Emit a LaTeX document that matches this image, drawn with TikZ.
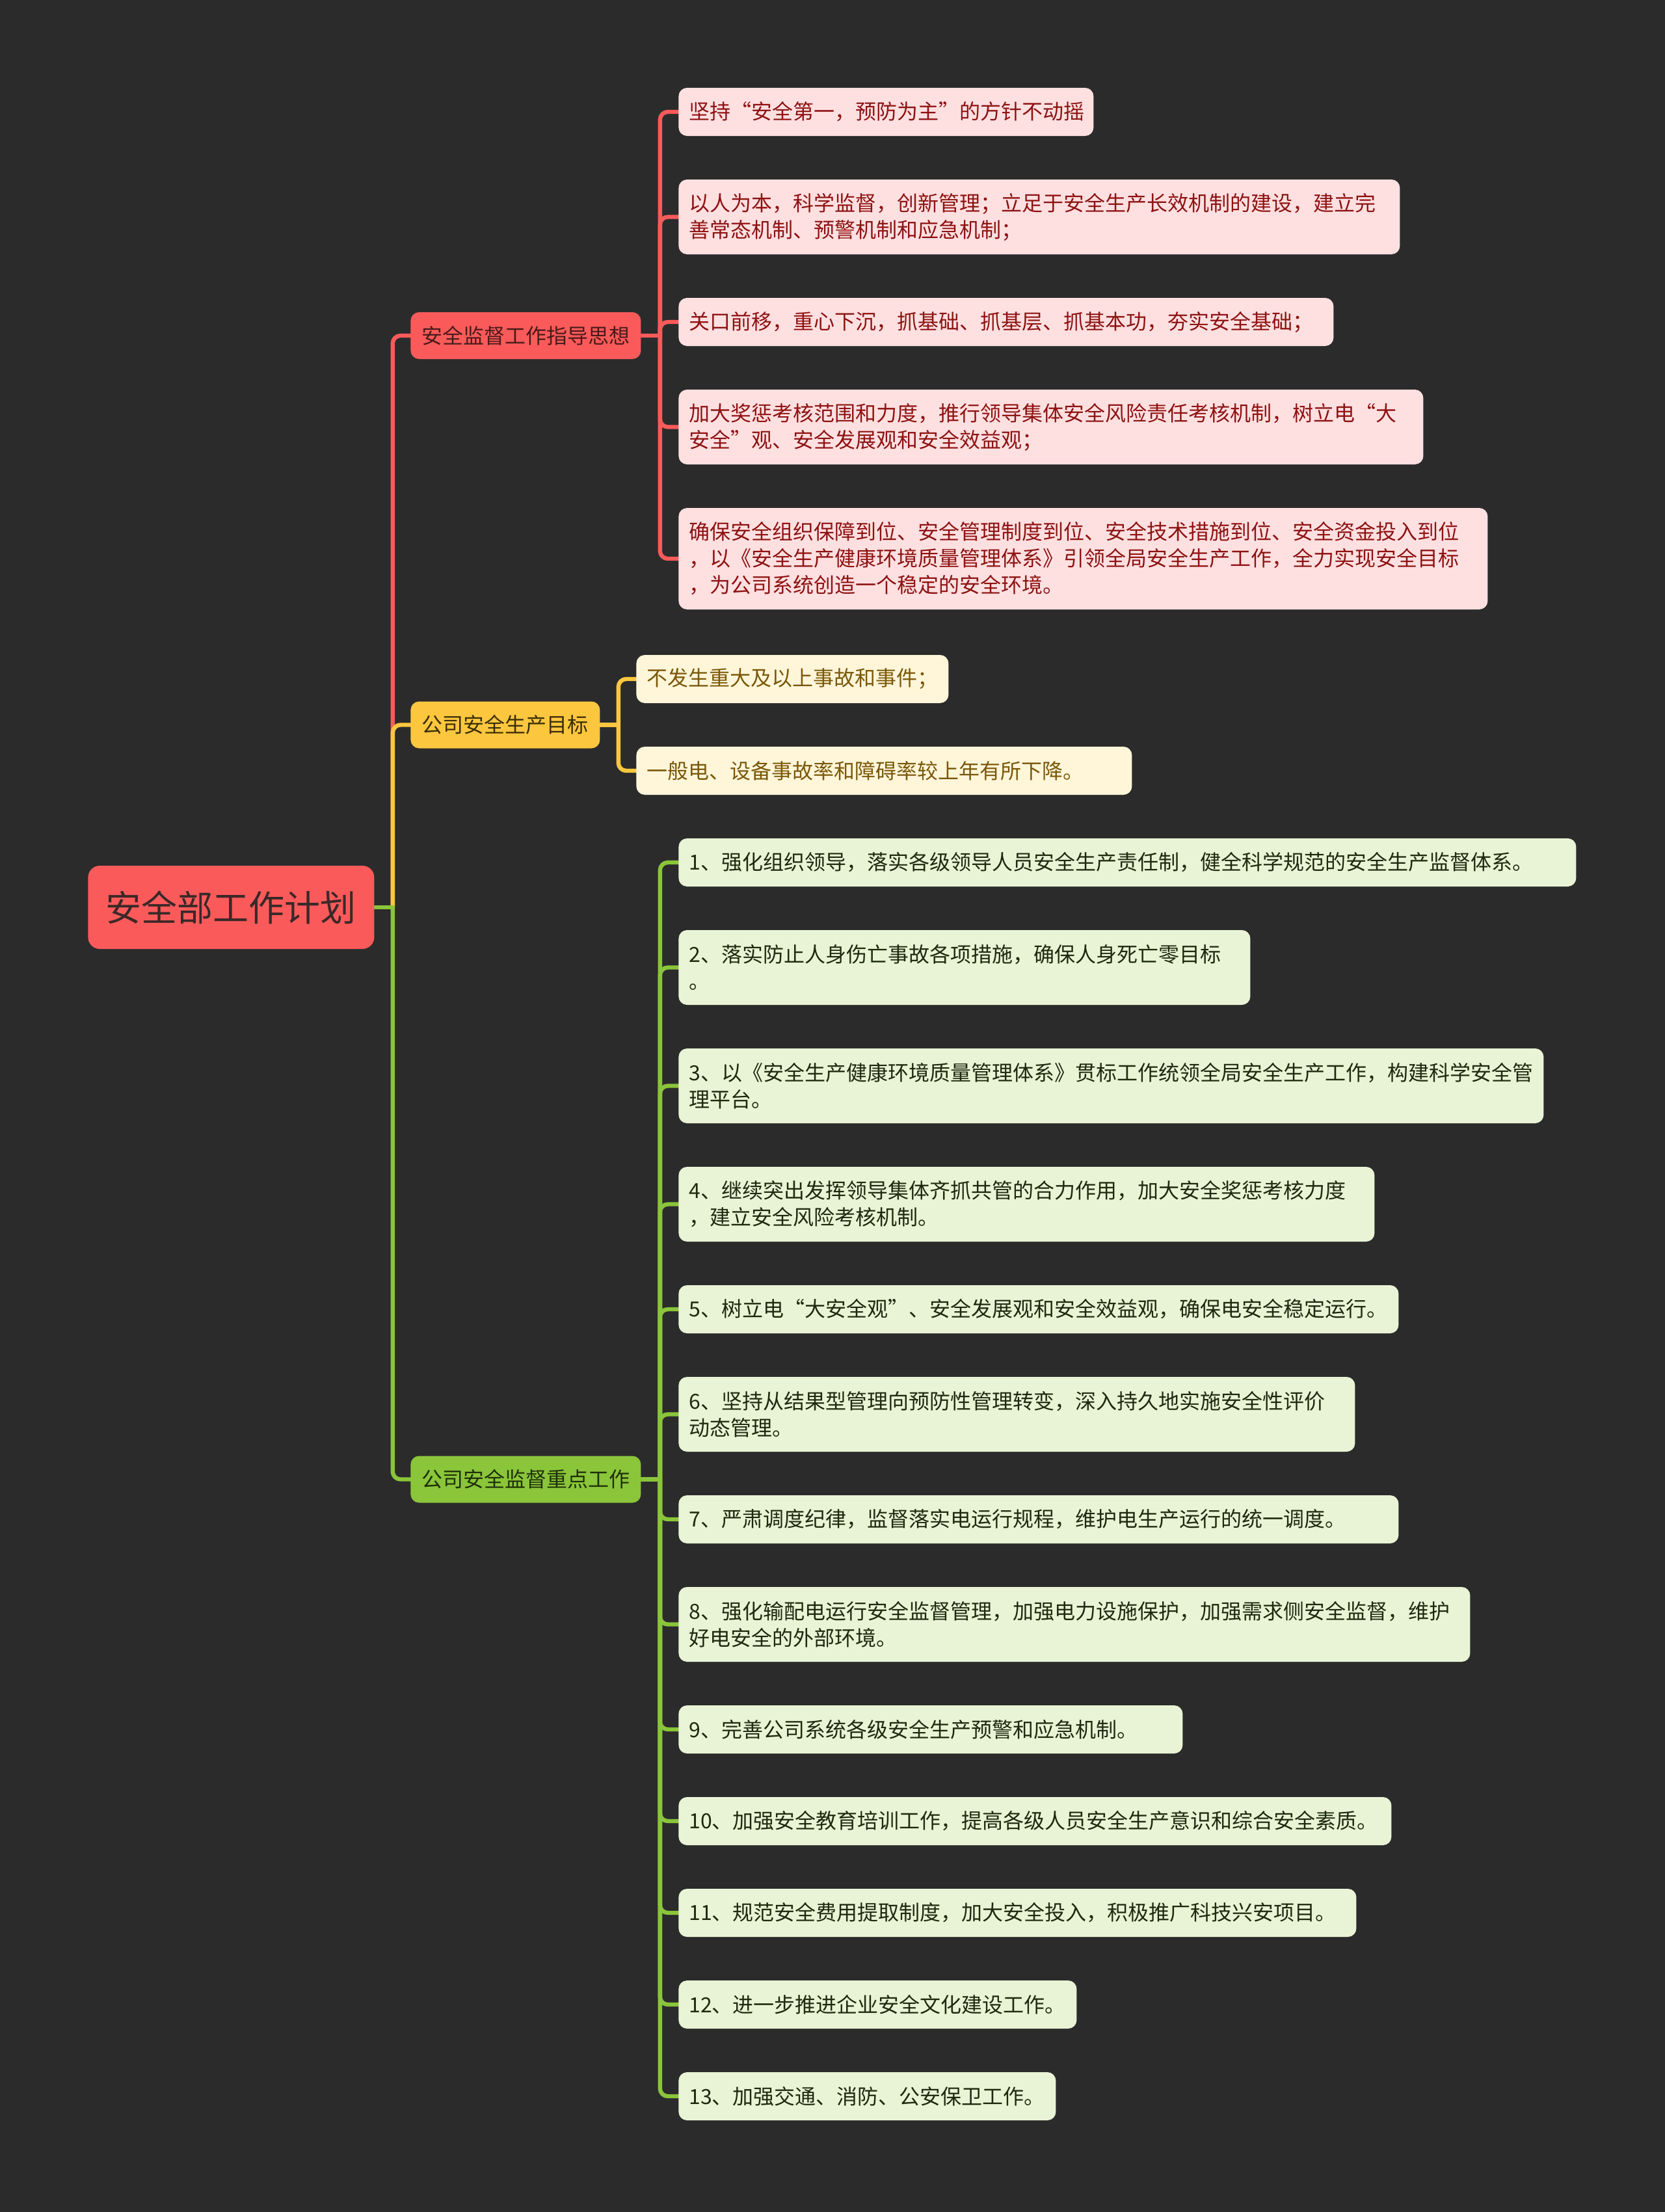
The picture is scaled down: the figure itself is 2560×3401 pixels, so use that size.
\documentclass[tikz,border=0pt]{standalone}
\usepackage{fontspec}
\setmainfont{Noto Sans CJK SC}
\usetikzlibrary{backgrounds}
\definecolor{bgc}{HTML}{2B2B2B}
\definecolor{redmain}{HTML}{FA5A5A}
\definecolor{redfill}{HTML}{FFE0E1}
\definecolor{redtext}{HTML}{8E1212}
\definecolor{rootext}{HTML}{3B2828}
\definecolor{bonetext}{HTML}{4A1A1A}
\definecolor{yelmain}{HTML}{FCC63F}
\definecolor{yelfill}{HTML}{FFF6DA}
\definecolor{yeltext}{HTML}{7A5808}
\definecolor{btwotext}{HTML}{3A2E05}
\definecolor{grnmain}{HTML}{8AC53A}
\definecolor{grnfill}{HTML}{E9F4D6}
\definecolor{grntext}{HTML}{1D2A0E}
\definecolor{bthreetext}{HTML}{1E3008}
\begin{document}
\begin{tikzpicture}[x=0.5pt,y=-0.5pt,
 leafbox/.style={rounded corners=6.5pt, inner xsep=8pt, inner ysep=0pt, align=left, anchor=west, font=\fontsize{16pt}{20.5pt}\selectfont},
 lone/.style={minimum height=37pt},
 ltwo/.style={minimum height=57.5pt},
 lthree/.style={minimum height=78pt},
 rleaf/.style={leafbox, fill=redfill, text=redtext, text width=#1},
 yleaf/.style={leafbox, fill=yelfill, text=yeltext, text width=#1},
 gleaf/.style={leafbox, fill=grnfill, text=grntext, text width=#1},
 branchbox/.style={rounded corners=6.5pt, inner sep=0pt, anchor=west, minimum height=36pt, font=\fontsize{16pt}{20pt}\selectfont},
 rootbox/.style={rounded corners=9pt, inner sep=0pt, anchor=west, minimum width=220pt, minimum height=64pt, fill=redmain, text=rootext, font=\fontsize{27.5pt}{32pt}\selectfont},
 conn/.style={line width=3.2pt, rounded corners=6pt, line cap=round},
 rconn/.style={conn, draw=redmain},
 yconn/.style={conn, draw=yelmain},
 gconn/.style={conn, draw=grnmain}
]
\useasboundingbox (0,0) rectangle (2560,3401);

% root
\node[rootbox] (root) at (135,1395) {安全部工作计划};

% branches
\node[branchbox, minimum width=177pt, fill=redmain, text=bonetext] (b1) at (631,516) {安全监督工作指导思想};
\node[branchbox, minimum width=145.5pt, fill=yelmain, text=btwotext] (b2) at (631,1114.5) {公司安全生产目标};
\node[branchbox, minimum width=177pt, fill=grnmain, text=bthreetext] (b3) at (631,2274.5) {公司安全监督重点工作};

% red leaves
\node[rleaf=303pt, lone] (r1) at (1043,172) {坚持“安全第一，预防为主”的方针不动摇};
\node[rleaf=538.5pt, ltwo] (r2) at (1043,333.5) {以人为本，科学监督，创新管理；立足于安全生产长效机制的建设，建立完\\善常态机制、预警机制和应急机制；};
\node[rleaf=487.5pt, lone] (r3) at (1043,495) {关口前移，重心下沉，抓基础、抓基层、抓基本功，夯实安全基础；};
\node[rleaf=556.5pt, ltwo] (r4) at (1043,656.5) {加大奖惩考核范围和力度，推行领导集体安全风险责任考核机制，树立电“大\\安全”观、安全发展观和安全效益观；};
\node[rleaf=606pt, lthree] (r5) at (1043,859) {确保安全组织保障到位、安全管理制度到位、安全技术措施到位、安全资金投入到位\\，以《安全生产健康环境质量管理体系》引领全局安全生产工作，全力实现安全目标\\，为公司系统创造一个稳定的安全环境。};

% yellow leaves
\node[yleaf=224pt, lone] (y1) at (978,1044) {不发生重大及以上事故和事件；};
\node[yleaf=365pt, lone] (y2) at (978,1185) {一般电、设备事故率和障碍率较上年有所下降。};

% green leaves
\node[gleaf=674pt, lone] (g1) at (1043,1326) {1、强化组织领导，落实各级领导人员安全生产责任制，健全科学规范的安全生产监督体系。};
\node[gleaf=423.5pt, ltwo] (g2) at (1043,1487.5) {2、落实防止人身伤亡事故各项措施，确保人身死亡零目标\\。};
\node[gleaf=649pt, ltwo] (g3) at (1043,1669.5) {3、以《安全生产健康环境质量管理体系》贯标工作统领全局安全生产工作，构建科学安全管\\理平台。};
\node[gleaf=519pt, ltwo] (g4) at (1043,1851.5) {4、继续突出发挥领导集体齐抓共管的合力作用，加大安全奖惩考核力度\\，建立安全风险考核机制。};
\node[gleaf=537.5pt, lone] (g5) at (1043,2013) {5、树立电“大安全观”、安全发展观和安全效益观，确保电安全稳定运行。};
\node[gleaf=504pt, ltwo] (g6) at (1043,2174.5) {6、坚持从结果型管理向预防性管理转变，深入持久地实施安全性评价\\动态管理。};
\node[gleaf=537.5pt, lone] (g7) at (1043,2336) {7、严肃调度纪律，监督落实电运行规程，维护电生产运行的统一调度。};
\node[gleaf=592.5pt, ltwo] (g8) at (1043,2497.5) {8、强化输配电运行安全监督管理，加强电力设施保护，加强需求侧安全监督，维护\\好电安全的外部环境。};
\node[gleaf=371.5pt, lone] (g9) at (1043,2659) {9、完善公司系统各级安全生产预警和应急机制。};
\node[gleaf=532pt, lone] (g10) at (1043,2800) {10、加强安全教育培训工作，提高各级人员安全生产意识和综合安全素质。};
\node[gleaf=505pt, lone] (g11) at (1043,2941) {11、规范安全费用提取制度，加大安全投入，积极推广科技兴安项目。};
\node[gleaf=290pt, lone] (g12) at (1043,3082) {12、进一步推进企业安全文化建设工作。};
\node[gleaf=274pt, lone] (g13) at (1043,3223) {13、加强交通、消防、公安保卫工作。};

% junction coordinates
\coordinate (rj) at ([xshift=14pt]root.east);
\coordinate (j1) at ([xshift=14.5pt]b1.east);
\coordinate (j2) at ([xshift=14pt]b2.east);
\coordinate (j3) at ([xshift=14.5pt]b3.east);

\begin{pgfonlayer}{background}
\fill[bgc] (0,0) rectangle (2560,3401);
% red
\draw[rconn] (root.east) -- (rj);
\draw[rconn] (rj) |- (b1.west);
\draw[rconn] (b1.east) -- (j1);
\foreach \n in {r1,r2,r3,r4,r5} {\draw[rconn] (j1) |- (\n.west);}
% yellow
\draw[yconn] (rj) |- (b2.west);
\draw[yconn] (b2.east) -- (j2);
\foreach \n in {y1,y2} {\draw[yconn] (j2) |- (\n.west);}
% green
\draw[gconn] (root.east) -- (rj);
\draw[gconn] (rj) |- (b3.west);
\draw[gconn] (b3.east) -- (j3);
\foreach \n in {g1,g2,g3,g4,g5,g6,g7,g8,g9,g10,g11,g12,g13} {\draw[gconn] (j3) |- (\n.west);}
\end{pgfonlayer}
\end{tikzpicture}
\end{document}
